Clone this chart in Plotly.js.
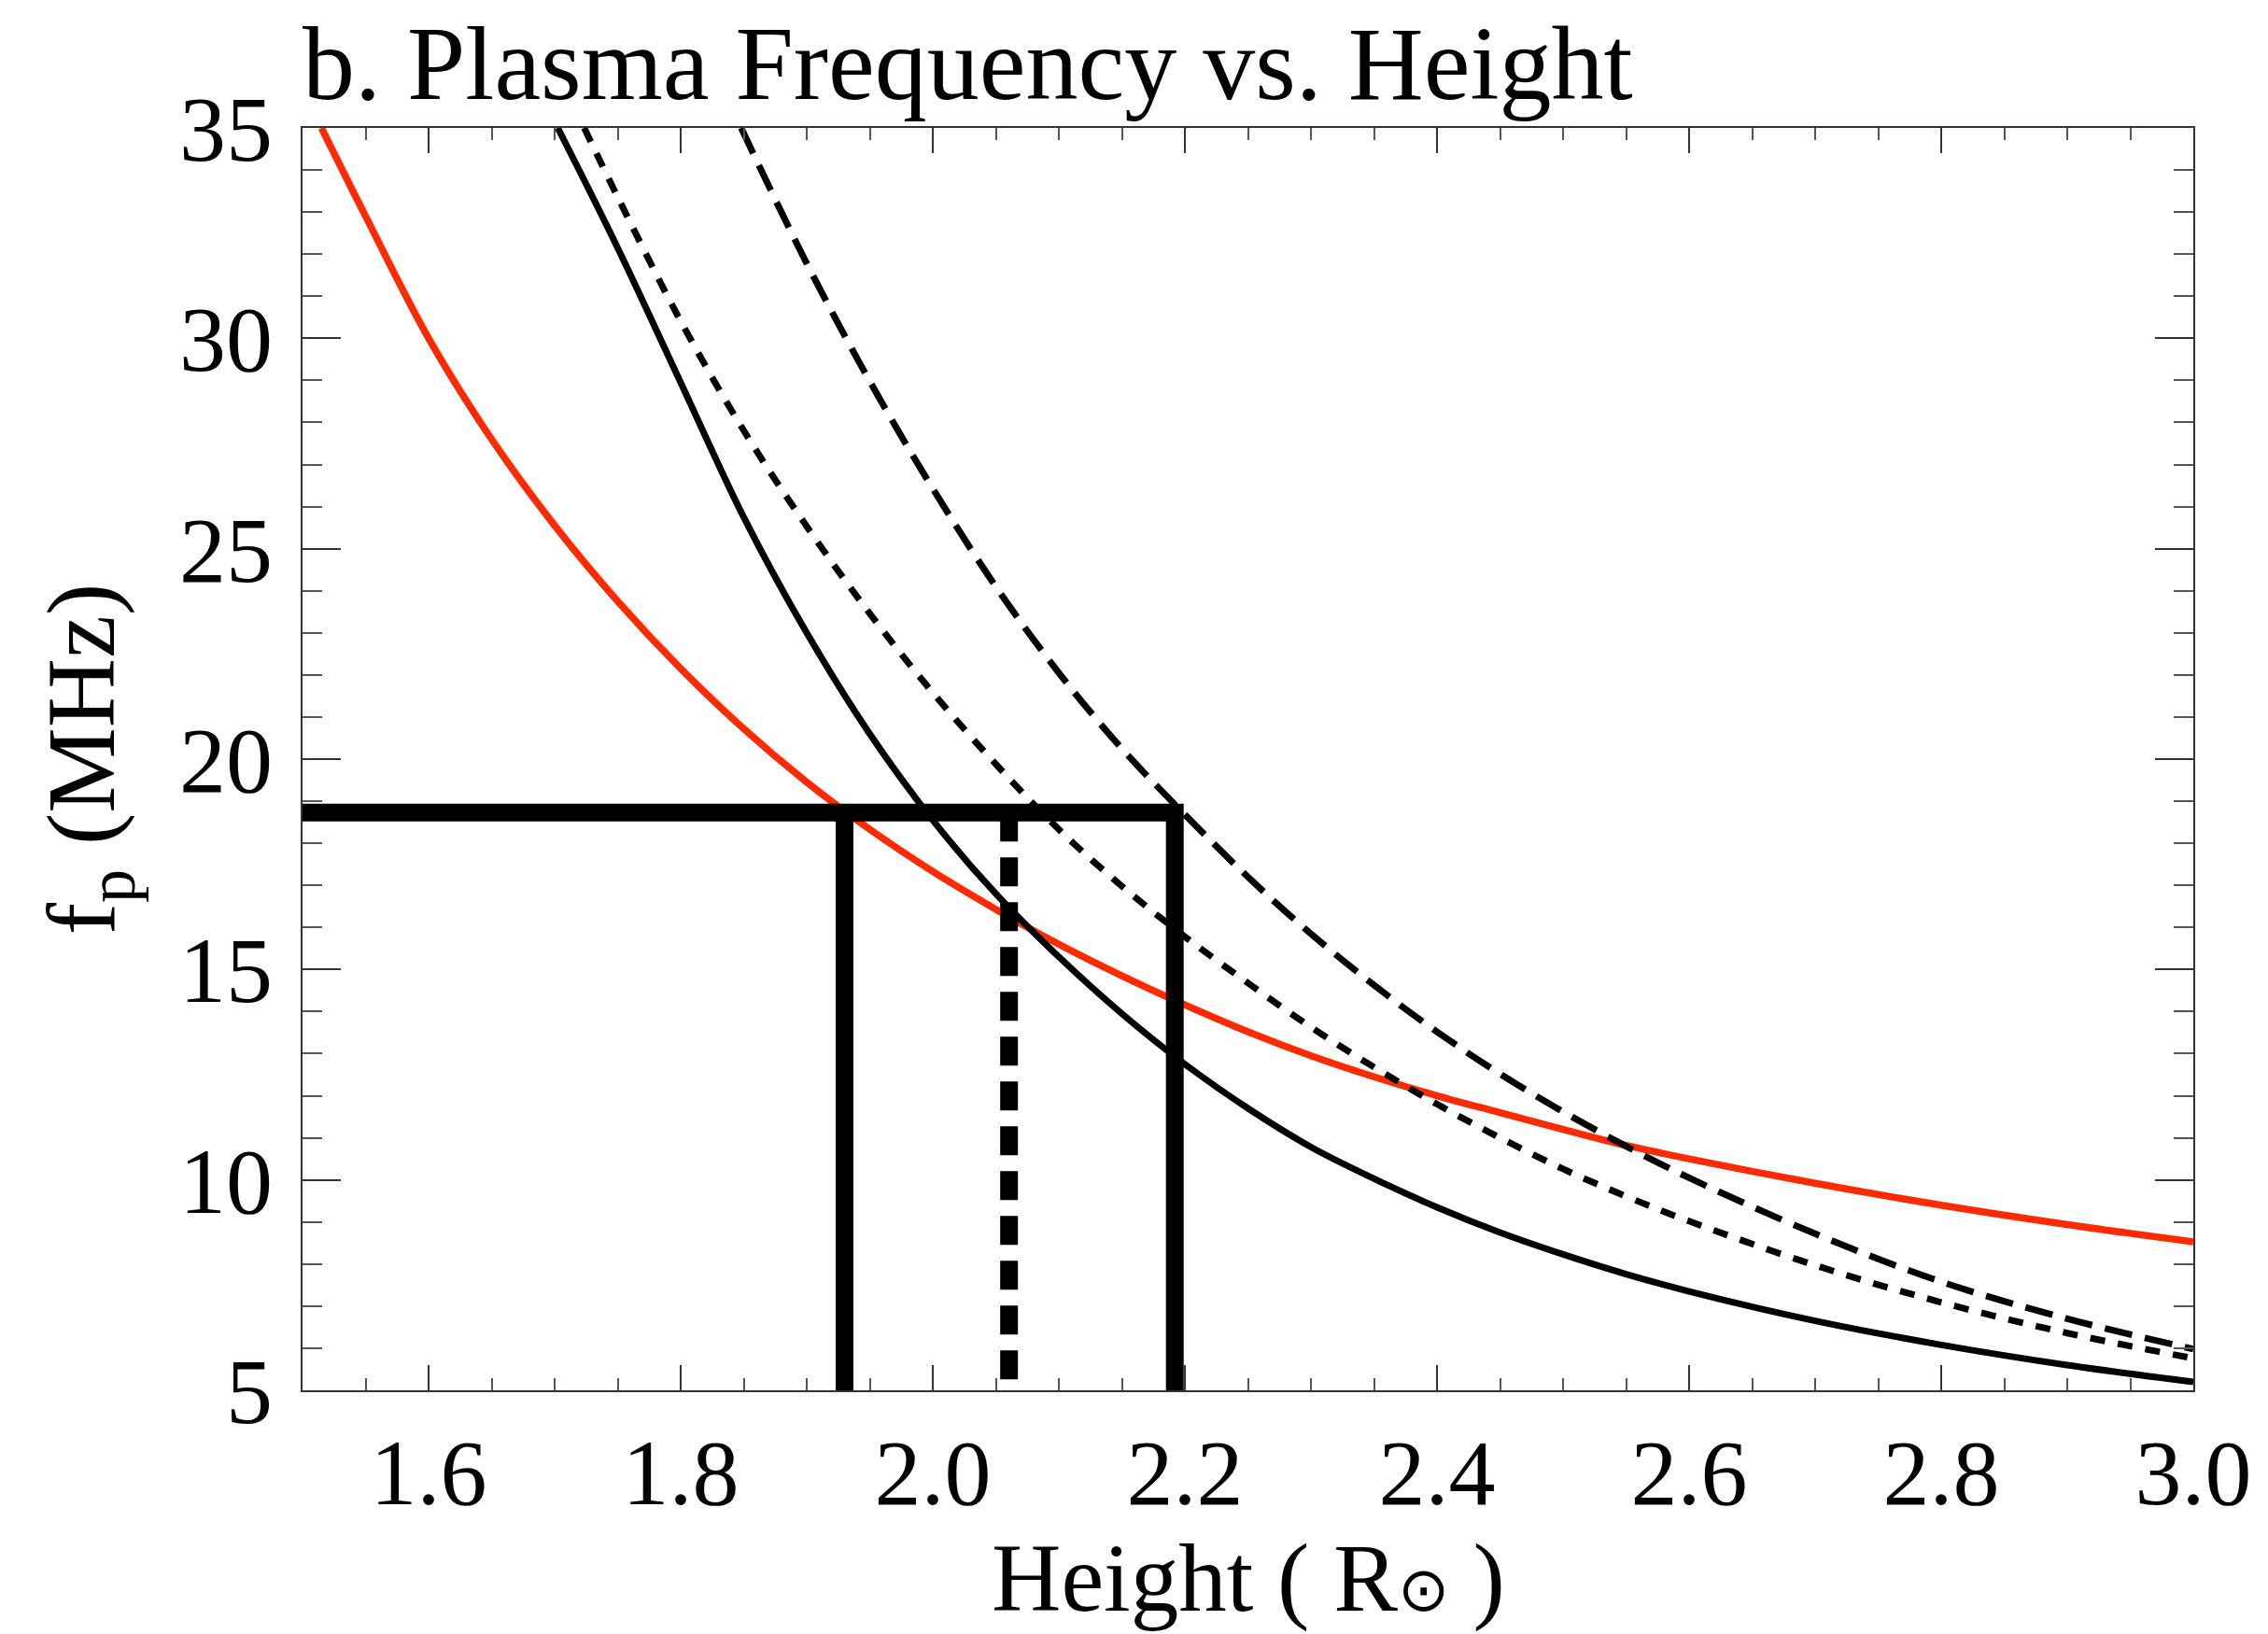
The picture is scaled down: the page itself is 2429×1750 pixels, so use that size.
<!DOCTYPE html>
<html>
<head>
<meta charset="utf-8">
<script src="https://cdn.plot.ly/plotly-3.0.1.min.js"></script>
<style>
  html, body { margin: 0; padding: 0; background: #ffffff; }
  #chart { width: 2429px; height: 1750px; }
</style>
</head>
<body>
<div id="chart"></div>
<script>
// ---- Data ----
// Red curve
const heightRed = [1.515, 1.55, 1.60, 1.65, 1.70, 1.75, 1.80, 1.85, 1.90, 1.95, 2.00, 2.05, 2.10, 2.15, 2.20, 2.25, 2.30, 2.35, 2.40, 2.45, 2.50, 2.55, 2.60, 2.70, 2.80, 2.90, 3.00];
const fpRed     = [35.0, 32.9, 30.0, 27.6, 25.55, 23.75, 22.15, 20.72, 19.45, 18.33, 17.33, 16.43, 15.6, 14.85, 14.16, 13.52, 12.95, 12.45, 12.0, 11.6, 11.2, 10.82, 10.5, 9.92, 9.4, 8.94, 8.53];

// Solid black curve
const heightSolid = [1.7025, 1.75, 1.80, 1.85, 1.90, 1.95, 2.00, 2.05, 2.10, 2.15, 2.20, 2.25, 2.30, 2.35, 2.40, 2.45, 2.50, 2.55, 2.60, 2.70, 2.80, 2.90, 3.00];
const fpSolid     = [35.0, 32.15, 28.95, 25.75, 23.0, 20.6, 18.55, 16.8, 15.3, 13.95, 12.75, 11.7, 10.78, 10.03, 9.35, 8.75, 8.23, 7.76, 7.35, 6.65, 6.08, 5.6, 5.2];

// Dotted black curve
const heightDotted = [1.7235, 1.75, 1.80, 1.85, 1.90, 1.95, 2.00, 2.05, 2.10, 2.15, 2.20, 2.25, 2.30, 2.35, 2.40, 2.45, 2.50, 2.55, 2.60, 2.70, 2.80, 2.90, 3.00];
const fpDotted     = [35.0, 33.36, 30.41, 27.81, 25.53, 23.46, 21.58, 19.88, 18.33, 16.98, 15.78, 14.68, 13.63, 12.68, 11.8, 11.0, 10.26, 9.61, 9.02, 7.97, 7.09, 6.36, 5.76];

// Dashed black curve
const heightDashed = [1.848, 1.90, 1.95, 2.00, 2.05, 2.10, 2.15, 2.20, 2.25, 2.30, 2.35, 2.40, 2.45, 2.50, 2.55, 2.60, 2.70, 2.80, 2.90, 3.00];
const fpDashed     = [35.0, 31.78, 28.98, 26.43, 24.1, 22.05, 20.25, 18.68, 17.2, 15.85, 14.63, 13.52, 12.52, 11.62, 10.8, 10.05, 8.72, 7.58, 6.7, 5.98];

// Marked frequency and the heights where it is reached
const markFreq = 18.73;
const markHeights = [1.930, 2.0605, 2.192];   // solid, dashed, solid

// Axes
const xRange = [1.5, 3.0];
const yRange = [5, 35];
const xTickVals = [1.6, 1.8, 2.0, 2.2, 2.4, 2.6, 2.8, 3.0];
const xTickText = ["1.6", "1.8", "2.0", "2.2", "2.4", "2.6", "2.8", "3.0"];
const yTickVals = [5, 10, 15, 20, 25, 30, 35];
const yTickText = ["5", "10", "15", "20", "25", "30", "35"];
const xTitle = 'Height ( R<span style="font-size:66px">⊙</span> )';
const yTitle = 'f<sub>p</sub> (MHz)';
const chartTitle = 'b. Plasma Frequency vs. Height';

// ---- Traces ----
const curveStyle = {shape: 'spline', smoothing: 1};
const traces = [
  {x: heightRed, y: fpRed, mode: 'lines',
   line: Object.assign({color: '#ff2a00', width: 7.5}, curveStyle)},
  {x: heightSolid, y: fpSolid, mode: 'lines',
   line: Object.assign({color: '#000000', width: 7}, curveStyle)},
  {x: heightDotted, y: fpDotted, mode: 'lines',
   line: Object.assign({color: '#000000', width: 7, dash: '16px,14px'}, curveStyle)},
  {x: heightDashed, y: fpDashed, mode: 'lines',
   line: Object.assign({color: '#000000', width: 7, dash: '30px,14px'}, curveStyle)},
  // horizontal marker line joined to the right vertical line
  {x: [xRange[0], markHeights[2], markHeights[2]], y: [markFreq, markFreq, yRange[0]], mode: 'lines',
   line: {color: '#000000', width: 19}},
  // left vertical line
  {x: [markHeights[0], markHeights[0]], y: [markFreq, yRange[0]], mode: 'lines',
   line: {color: '#000000', width: 19}},
  // dashed vertical line
  {x: [markHeights[1], markHeights[1]], y: [markFreq, yRange[0]], mode: 'lines',
   line: {color: '#000000', width: 19, dash: '31px,17px'}}
];

const serif = 'Liberation Serif, Times New Roman, serif';
const axisCommon = {
  showline: true, linecolor: '#333333', linewidth: 2, mirror: 'ticks',
  ticks: 'inside', tickwidth: 2, tickcolor: '#333333',
  showgrid: false, zeroline: false, automargin: false,
  tickfont: {family: serif, size: 100, color: '#000000'}
};

const layout = {
  width: 2429, height: 1750,
  paper_bgcolor: '#ffffff', plot_bgcolor: '#ffffff',
  showlegend: false,
  margin: {l: 324, r: 80, t: 137, b: 261, pad: 0},
  font: {family: serif, color: '#000000'},
  title: {
    text: chartTitle,
    font: {family: serif, size: 112, color: '#000000'},
    xref: 'paper', x: 0, xanchor: 'left',
    yref: 'container', y: 0.962, yanchor: 'middle'
  },
  xaxis: Object.assign({}, axisCommon, {
    range: xRange,
    tickmode: 'array', tickvals: xTickVals, ticktext: xTickText,
    ticklen: 27, ticklabelstandoff: 0,
    minor: {tickmode: 'linear', tick0: 1.5, dtick: 0.05, ticks: 'inside', ticklen: 13, tickwidth: 2, tickcolor: '#555555', showgrid: false}
  }),
  yaxis: Object.assign({}, axisCommon, {
    range: yRange,
    tickmode: 'array', tickvals: yTickVals, ticktext: yTickText,
    ticklen: 41, ticklabelstandoff: 10,
    minor: {tickmode: 'linear', tick0: 5, dtick: 1, ticks: 'inside', ticklen: 21, tickwidth: 2, tickcolor: '#555555', showgrid: false},
    title: {text: yTitle, standoff: 35,
            font: {family: serif, size: 103, color: '#000000'}}
  }),
  annotations: [{
    text: xTitle, showarrow: false,
    xref: 'paper', x: 0.5, xanchor: 'center',
    yref: 'paper', y: -0.149, yanchor: 'middle',
    font: {family: serif, size: 103, color: '#000000'}
  }]
};

Plotly.newPlot('chart', traces, layout, {displayModeBar: false, staticPlot: true});
</script>
</body>
</html>
